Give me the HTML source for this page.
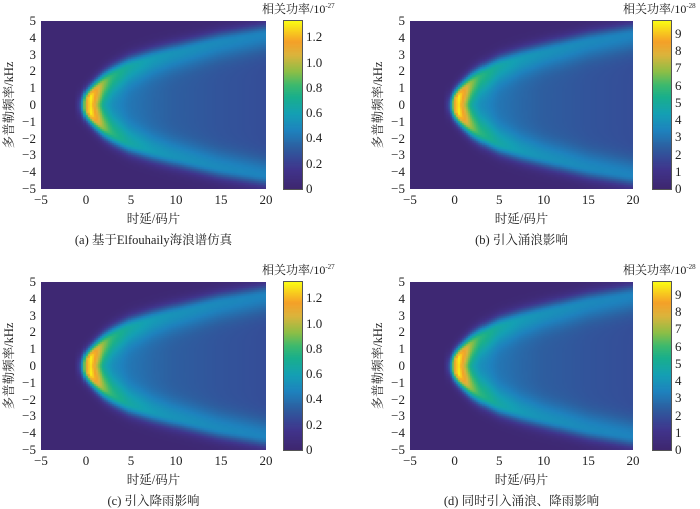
<!DOCTYPE html>
<html><head><meta charset="utf-8">
<style>
html,body{margin:0;padding:0;background:#fff;}
body{width:700px;height:507px;position:relative;overflow:hidden;font-family:"Liberation Serif","Noto Serif CJK SC",serif;color:#222;}
.abs{position:absolute;}
canvas{position:absolute;}
.tk{position:absolute;font-size:13px;line-height:12px;}
.cap{position:absolute;font-size:12.5px;white-space:nowrap;transform:translateX(-50%);}
.ytitle{position:absolute;font-size:12.5px;white-space:nowrap;transform:translate(-50%,-50%) rotate(-90deg);}
.cbl{position:absolute;font-size:12px;white-space:nowrap;}
</style></head>
<body>
<div id="root"></div>
<script>
// shared data (ridge model)
const delays   = [-5,-1.2,-0.5,0,0.5,1,2,3,5,7.5,10,15,20];
const edgeDop  = [0,0,0,0.2,0.45,0.75,1.3,1.7,2.3,2.75,3.1,3.75,4.2];
const ridgePk  = [0,0,0.2,0.8,1.0,0.9,0.7,0.58,0.48,0.42,0.39,0.36,0.34];
const interior = [0,0,0.2,0.8,0.9,0.72,0.45,0.37,0.30,0.26,0.23,0.20,0.18];
const panelNames = ["panel-a","panel-b","panel-c","panel-d"];
const panelMax   = [1.33,9.75,1.33,9.75];
const cbTickVals = [[0,0.2,0.4,0.6,0.8,1.0,1.2],[0,1,2,3,4,5,6,7,8,9],[0,0.2,0.4,0.6,0.8,1.0,1.2],[0,1,2,3,4,5,6,7,8,9]];
const cbExp      = ["-27","-28","-27","-28"];
const captions   = ["(a) 基于Elfouhaily海浪谱仿真","(b) 引入涌浪影响","(c) 引入降雨影响","(d) 同时引入涌浪、降雨影响"];
const xTicks = [-5,0,5,10,15,20];
const yTicks = [5,4,3,2,1,0,-1,-2,-3,-4,-5];

const layout = [
 {x:41,y:21,w:225,h:168,cb:284},
 {x:410,y:21,w:223,h:168,cb:653},
 {x:41,y:282,w:225,h:168,cb:284},
 {x:410,y:282,w:223,h:168,cb:653}
];
const cmapStops=[[0,[62,38,110]],[0.12,[64,52,140]],[0.25,[45,95,160]],[0.35,[30,130,190]],[0.45,[20,160,180]],[0.55,[25,175,140]],[0.62,[60,185,110]],[0.7,[140,190,70]],[0.8,[220,180,60]],[0.88,[245,160,40]],[1,[250,250,20]]];
function cmap(t){t=Math.max(0,Math.min(1,t));for(let i=1;i<cmapStops.length;i++){if(t<=cmapStops[i][0]){const a=cmapStops[i-1],b=cmapStops[i];const u=(t-a[0])/(b[0]-a[0]);return a[1].map((c,k)=>Math.round(c+(b[1][k]-c)*u));}}return cmapStops[cmapStops.length-1][1];}
function interp(arr,t){if(t<=delays[0])return arr[0];for(let i=1;i<delays.length;i++){if(t<=delays[i]){const u=(t-delays[i-1])/(delays[i]-delays[i-1]);return arr[i-1]+(arr[i]-arr[i-1])*u;}}return arr[arr.length-1];}
function val(t,f){
 const E=interp(edgeDop,t),P=interp(ridgePk,t),I=interp(interior,t);
 const d=Math.abs(f)-E;let v;
 if(d<0){v=I+(P-I)*Math.exp(-Math.pow(d/1.0,2));}else{v=P*Math.exp(-Math.pow(d/0.65,2));}
 return 0.02+v*0.98;
}
const root=document.getElementById('root');
function mk(tag,cls,name,inter,parent){const e=document.createElement(tag);if(cls)e.className=cls;


(parent||root).appendChild(e);return e;}

layout.forEach((L,p)=>{
 const g=mk('div','abs',panelNames[p],'false');g.style.left='0';g.style.top='0';
 const sx=v=>L.x+(v+5)/25*L.w, sy=v=>L.y+(5-v)/10*L.h;
 const cv=mk('canvas','','heatmap','false',g);cv.width=L.w;cv.height=L.h;cv.style.left=L.x+'px';cv.style.top=L.y+'px';
 const ctx=cv.getContext('2d');const nx=110,ny=84;
 for(let i=0;i<nx;i++)for(let j=0;j<ny;j++){
   const t=-5+(i+0.5)*25/nx,f=5-(j+0.5)*10/ny;
   const c=cmap(val(t,f));
   ctx.fillStyle='rgb('+c.join(',')+')';
   ctx.fillRect(Math.floor(i*L.w/nx),Math.floor(j*L.h/ny),Math.ceil(L.w/nx)+1,Math.ceil(L.h/ny)+1);
 }
 xTicks.forEach(v=>{const e=mk('div','tk','x-tick-label','false',g);e.textContent=v<0?'−'+(-v):v;e.style.left=(sx(v)-12)+'px';e.style.width='24px';e.style.textAlign='center';e.style.top=(L.y+L.h+5)+'px';});
 yTicks.forEach(v=>{const e=mk('div','tk','y-tick-label','false',g);e.textContent=v<0?'−'+(-v):v;e.style.left=(L.x-25)+'px';e.style.width='20px';e.style.textAlign='right';e.style.top=(sy(v)-6)+'px';});
 const xt=mk('div','cap','x-axis-title','false',g);xt.textContent='时延/码片';xt.style.left=(L.x+L.w/2)+'px';xt.style.top=(L.y+L.h+20)+'px';
 const yt=mk('div','ytitle','y-axis-title','false',g);yt.textContent='多普勒频率/kHz';yt.style.left=(L.x-33)+'px';yt.style.top=(L.y+L.h/2)+'px';
 const cap=mk('div','cap','caption','false',g);cap.textContent=captions[p];cap.style.left=(L.x+L.w/2)+'px';cap.style.top=(L.y+L.h+41)+'px';
 const cb=mk('canvas','','colorbar','false',g);cb.width=18;cb.height=L.h;cb.style.left=L.cb+'px';cb.style.top=L.y+'px';cb.style.outline='1px solid #555';
 const cc=cb.getContext('2d');for(let k=0;k<L.h;k++){const c=cmap(1-k/L.h);cc.fillStyle='rgb('+c.join(',')+')';cc.fillRect(0,k,18,1);}
 cbTickVals[p].forEach(v=>{const y=L.y+L.h*(1-v/panelMax[p]);const e=mk('div','tk','colorbar-tick','false',g);e.textContent=(p%2==0)?(v===0?'0':v.toFixed(1)):v;e.style.left=(L.cb+22)+'px';e.style.top=(y-6)+'px';});
 const lb=mk('div','cbl','colorbar-label','false',g);lb.innerHTML='相关功率/10<sup style="font-size:7px">'+cbExp[p]+'</sup>';lb.style.left=(L.cb-(p%2?30:22))+'px';lb.style.top=(L.y-21)+'px';
});
</script>
</body></html>
